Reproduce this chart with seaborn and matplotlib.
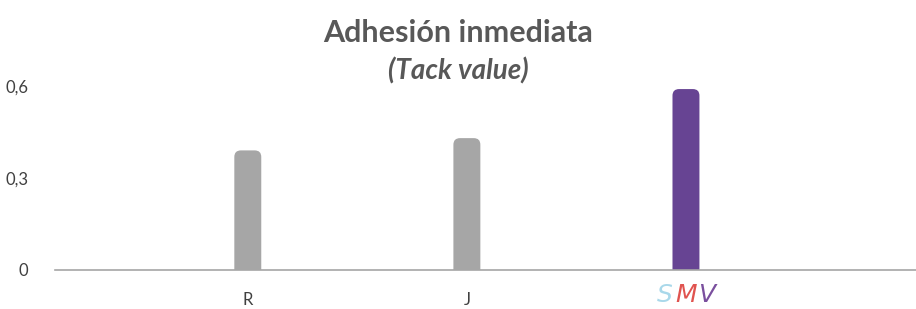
import pandas as pd
import seaborn as sns
import matplotlib.pyplot as plt
from matplotlib.patches import FancyBboxPatch

sns.set_style('white')
plt.rcParams['font.family'] = ['Lato', 'DejaVu Sans']

materials = ['R', 'J', 'SMV']
tack = [0.39, 0.43, 0.59]
bar_colors = ['#a6a6a6', '#a6a6a6', '#674493']

df = pd.DataFrame({'material': materials, 'tack': tack})

fig = plt.figure(figsize=(9.16, 3.09), dpi=100)
ax = fig.add_axes([55 / 916, 39 / 309, 861 / 916, 184 / 309])

sns.barplot(data=df, x='material', y='tack', hue='material', palette=bar_colors,
            width=0.123, legend=False, ax=ax, saturation=1)

ax.set_xlim(-0.88, 3.05)
ax.set_ylim(0, 0.6)

# swap the flat bars for ones with rounded tops
for p in list(ax.patches):
    x0, y0 = p.get_x(), p.get_y()
    w, h = p.get_width(), p.get_height()
    rb = FancyBboxPatch((x0, y0 - 0.05), w, h + 0.05,
                        boxstyle='round,pad=0,rounding_size=0.03',
                        mutation_aspect=0.714, facecolor=p.get_facecolor(),
                        edgecolor='none', clip_on=True)
    p.remove()
    ax.add_patch(rb)

ax.set_yticks([0, 0.3, 0.6])
ax.set_yticklabels(['0', '0,3', '0,6'])
ax.set_xticks([0, 1, 2])
ax.set_xticklabels(['R', 'J', ''])
ax.tick_params(axis='y', length=0, pad=19, labelsize=12, labelcolor='#404040')
ax.tick_params(axis='x', length=0, pad=16, labelsize=12, labelcolor='#404040')
ax.set_xlabel('')
ax.set_ylabel('')

for s in ['top', 'left', 'right']:
    ax.spines[s].set_visible(False)
ax.spines['bottom'].set_color('#a6a6a6')
ax.spines['bottom'].set_linewidth(1.2)

# coloured SMV label
letters = ['S', 'M', 'V']
letter_colors = ['#a9d8ea', '#e0534f', '#7a4f9e']
offsets = [-21, 0, 21]
for ch, c, dx in zip(letters, letter_colors, offsets):
    ax.annotate(ch, xy=(2, 0), xycoords=('data', 'axes fraction'),
                xytext=(dx, -25), textcoords='offset pixels',
                ha='center', va='center', fontsize=18, style='italic',
                color=c, family=['DejaVu Sans'])

fig.text(0.5, 1 - 33 / 309, 'Adhesión inmediata', ha='center', va='center',
         fontsize=22, fontweight='bold', color='#585858')
fig.text(0.5, 1 - 71 / 309, '(Tack value)', ha='center', va='center',
         fontsize=20, fontweight='bold', style='italic', color='#585858')

fig.savefig('out.png', dpi=100)
